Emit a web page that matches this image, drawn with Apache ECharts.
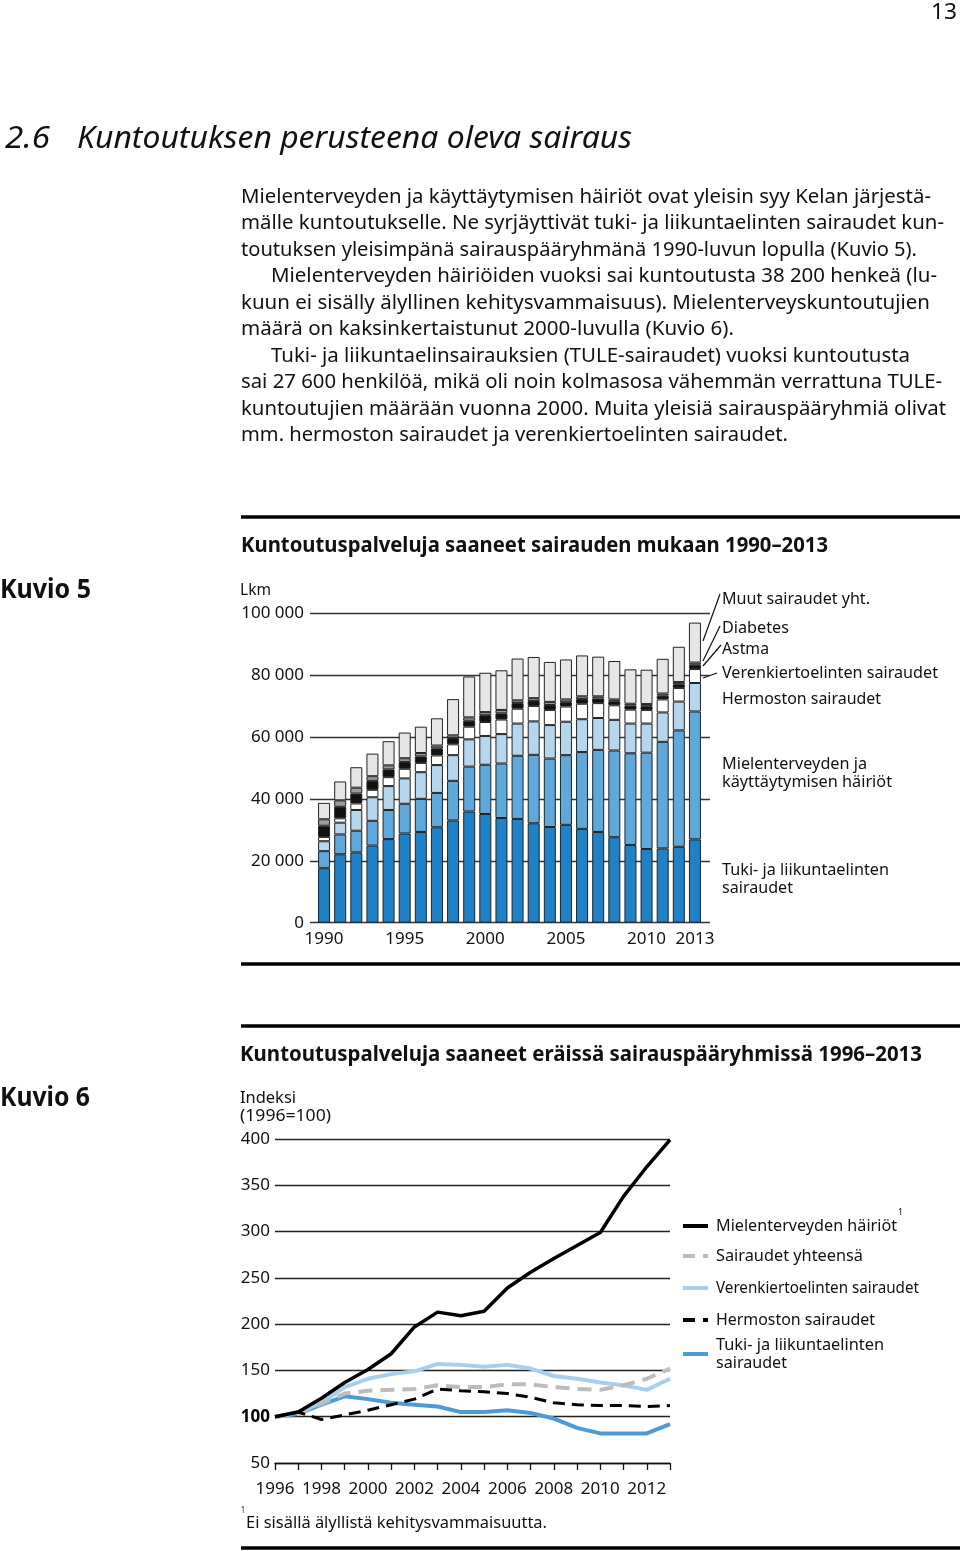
<!DOCTYPE html>
<html>
<head>
<meta charset="utf-8">
<script src="https://cdn.jsdelivr.net/npm/echarts@6/dist/echarts.min.js"></script>
<style>
html,body{margin:0;padding:0;background:#fff;}
#c{width:960px;height:1551px;}
</style>
</head>
<body>
<div id="c"></div>
<script>
// ---------- Kuvio 5 data (lkm) ----------
const years1 = ['1990','1991','1992','1993','1994','1995','1996','1997','1998','1999','2000','2001','2002','2003','2004','2005','2006','2007','2008','2009','2010','2011','2012','2013'];
const tuki = [17600,22100,22700,24900,27000,28800,29300,30800,33000,35900,35100,33800,33500,32100,30900,31600,30300,29300,27600,25100,23800,24000,24500,26900];
const mielenterveys = [5500,6400,7000,8000,9400,9600,10700,11100,12800,14500,15900,17600,20400,22100,22100,22500,24800,26500,28000,29600,31100,34400,37600,41300];
const hermosto = [3200,3800,6700,7600,7700,8200,8600,9000,8300,8800,9300,9500,10400,10800,10800,10800,10600,10300,9900,9600,9400,9500,9300,9200];
const verenkierto = [1400,1400,2100,2400,2900,3100,3000,3100,3500,4100,4500,4700,4800,5000,4900,4900,5000,4800,4700,4500,4400,4200,4400,4500];
const astma = [3600,3700,3200,2900,2500,2200,2100,2300,2000,1900,2200,2000,1800,1600,1600,1400,1500,1500,1300,1300,1200,1200,1200,1400];
const diabetes = [2100,2100,1900,1500,1300,1200,1100,900,900,1100,1000,1100,900,900,1000,900,900,700,600,600,700,700,700,700];
const muut = [5300,6100,6600,7300,7800,8300,8500,8800,11700,13200,12700,12800,13500,13300,12900,12900,13200,12800,12400,11100,11100,11200,11400,12900];
const seriesNames1 = ['Tuki- ja liikuntaelinten sairaudet','Mielenterveyden ja käyttäytymisen häiriöt','Hermoston sairaudet','Verenkiertoelinten sairaudet','Astma','Diabetes','Muut sairaudet yht.'];
const yTicks1 = [0,20000,40000,60000,80000,100000];

// ---------- Kuvio 6 data (indeksi 1996=100) ----------
const years2 = ['1996','1997','1998','1999','2000','2001','2002','2003','2004','2005','2006','2007','2008','2009','2010','2011','2012','2013'];
const mielenterveys2 = [100,105,120,137,151,168,197,213,209,214,239,256,271,285,299,338,370,399];
const yhteensa2 = [100,103,114,125,128,129,130,134,132,132,135,135,132,130,129,134,141,152];
const verenkierto2 = [100,105,115,132,141,146,149,157,156,154,156,152,144,141,137,134,129,141];
const hermosto2 = [100,105,97,102,107,113,119,130,128,127,125,121,115,113,112,112,111,112];
const tuki2 = [100,103,113,122,119,115,113,111,105,105,107,104,98,88,82,82,82,92];
const seriesNames2 = ['Mielenterveyden häiriöt','Sairaudet yhteensä','Verenkiertoelinten sairaudet','Hermoston sairaudet','Tuki- ja liikuntaelinten sairaudet'];

// ---------- helpers ----------
const FF = '"Noto Sans", "Open Sans", sans-serif';
const mctx = document.createElement('canvas').getContext('2d');
function T(s, x, y, size, right, o) {
  o = o || {};
  const font = (o.italic ? 'italic ' : '') + (o.bold ? 'bold ' : '') + size + 'px ' + FF;
  mctx.font = font;
  const w = mctx.measureText(s).width;
  const sx = right ? (right - x) / w : 1;
  return {type:'text', x:x, y:y, scaleX:sx, silent:true,
    style:{text:s, font:font, fill:o.color||'#111', align:'left', verticalAlign:'middle', textAlign:'left', textVerticalAlign:'middle'}};
}
function L(x1,y1,x2,y2,w,color,dash){
  return {type:'line', silent:true, shape:{x1:x1,y1:y1,x2:x2,y2:y2},
    style:{stroke:color||'#111', lineWidth:w||1, lineDash:dash||null}};
}
const thou = v => String(v).replace(/\B(?=(\d{3})+(?!\d))/g, ' ');

const graphics = [
  T('13', 931, 13, 22, 957),
  T('2.6', 5, 139, 31, 50, {italic:true}),
  T('Kuntoutuksen perusteena oleva sairaus', 77, 139, 31, 632, {italic:true}),
  T('Mielenterveyden ja käyttäytymisen häiriöt ovat yleisin syy Kelan järjestä-', 241, 197, 19.5, 931),
  T('mälle kuntoutukselle. Ne syrjäyttivät tuki- ja liikuntaelinten sairaudet kun-', 241, 223.5, 19.5, 944),
  T('toutuksen yleisimpänä sairauspääryhmänä 1990-luvun lopulla (Kuvio 5).', 241, 250, 19.5, 917),
  T('Mielenterveyden häiriöiden vuoksi sai kuntoutusta 38 200 henkeä (lu-', 271, 276.5, 19.5, 937),
  T('kuun ei sisälly älyllinen kehitysvammaisuus). Mielenterveyskuntoutujien', 241, 303, 19.5, 930),
  T('määrä on kaksinkertaistunut 2000-luvulla (Kuvio 6).', 241, 329.5, 19.5, 734),
  T('Tuki- ja liikuntaelinsairauksien (TULE-sairaudet) vuoksi kuntoutusta', 271, 356, 19.5, 910),
  T('sai 27 600 henkilöä, mikä oli noin kolmasosa vähemmän verrattuna TULE-', 241, 382.5, 19.5, 942),
  T('kuntoutujien määrään vuonna 2000. Muita yleisiä sairauspääryhmiä olivat', 241, 409, 19.5, 946),
  T('mm. hermoston sairaudet ja verenkiertoelinten sairaudet.', 241, 435.5, 19.5, 788),

  // Kuvio 5 frame
  L(241, 517, 960, 517, 3.5, '#000'),
  T('Kuntoutuspalveluja saaneet sairauden mukaan 1990–2013', 241, 546, 21, 828, {bold:true}),
  T('Kuvio 5', 0, 590, 27, 91, {bold:true}),
  T('Lkm', 240, 590, 16.5, 271),
  L(241, 964, 960, 964, 3.5, '#000'),
  // Kuvio 5 labels
  T('Muut sairaudet yht.', 722, 599, 16.5, 870),
  T('Diabetes', 722, 628, 16.5, 789),
  T('Astma', 722, 649, 16.5, 769),
  T('Verenkiertoelinten sairaudet', 722, 673, 16.5, 938),
  T('Hermoston sairaudet', 722, 699, 16.5, 881),
  T('Mielenterveyden ja', 722, 764, 16.5, 867),
  T('käyttäytymisen häiriöt', 722, 782, 16.5, 892),
  T('Tuki- ja liikuntaelinten', 722, 870, 16.5, 889),
  T('sairaudet', 722, 888, 16.5, 793),
  L(720, 594, 703, 641, 1.2, '#111'),
  L(720, 626, 703, 661, 1.2, '#111'),
  L(721, 645, 703, 666, 1.2, '#111'),
  L(717, 673, 703, 678, 1.2, '#111'),

  // Kuvio 6 frame
  L(241, 1026, 960, 1026, 3.5, '#000'),
  T('Kuntoutuspalveluja saaneet eräissä sairauspääryhmissä 1996–2013', 240, 1055, 21, 922, {bold:true}),
  T('Kuvio 6', 0, 1098, 27, 90, {bold:true}),
  T('Indeksi', 240, 1098, 16.5, 296),
  T('(1996=100)', 240, 1116, 16.5, 331),
  // Kuvio 6 legend
  L(683, 1226, 708, 1226, 4, '#000'),
  T(seriesNames2[0], 716, 1226, 16.5, 897),
  T('1', 898, 1212, 9, 903),
  L(683, 1256, 708, 1256, 4, '#bdbdbd', [12, 8]),
  T(seriesNames2[1], 716, 1256, 16.5, 863),
  L(683, 1288, 708, 1288, 4, '#a8d0ec'),
  T(seriesNames2[2], 716, 1288, 16.5, 919),
  L(683, 1320, 708, 1320, 4, '#000', [12, 8]),
  T(seriesNames2[3], 716, 1320, 16.5, 875),
  L(683, 1354, 708, 1354, 4, '#4c9bd4'),
  T('Tuki- ja liikuntaelinten', 716, 1345, 16.5, 884),
  T('sairaudet', 716, 1363, 16.5, 787),
  T('1', 241, 1511, 8, 245),
  T('Ei sisällä älyllistä kehitysvammaisuutta.', 246, 1523, 17, 547),
  L(241, 1548, 960, 1548, 3.5, '#000')
];

const colors1 = ['#1f82c8','#5ea8dc','#b4d6ef','#ffffff','#111111','#9a9a9a','#e6e6e6'];
const data1 = [tuki, mielenterveys, hermosto, verenkierto, astma, diabetes, muut];

const barSeries = data1.map((d, i) => ({
  name: seriesNames1[i], type:'bar', stack:'a', xAxisIndex:0, yAxisIndex:0,
  data:d, barWidth:12, silent:true,
  itemStyle:{color:colors1[i], borderColor:'#222', borderWidth:1}
}));

const lineDefs = [
  {d:tuki2, n:seriesNames2[4], c:'#4c9bd4', w:4, t:'solid'},
  {d:verenkierto2, n:seriesNames2[2], c:'#a8d0ec', w:4, t:'solid'},
  {d:yhteensa2, n:seriesNames2[1], c:'#bdbdbd', w:4, t:[14,8]},
  {d:hermosto2, n:seriesNames2[3], c:'#000', w:3, t:[12,7]},
  {d:mielenterveys2, n:seriesNames2[0], c:'#000', w:3.5, t:'solid'}
];
const lineSeries = lineDefs.map(l => ({
  name:l.n, type:'line', xAxisIndex:2, yAxisIndex:2, data:l.d, symbol:'none', silent:true,
  lineStyle:{color:l.c, width:l.w, type:l.t}, z:3
}));

const axisTxt = {color:'#111', fontSize:17, fontFamily:FF};

const option = {
  animation:false,
  backgroundColor:'#fff',
  grid:[
    {left:316, width:387, top:613, height:309.7},
    {left:310, width:400, top:613, height:309.7},
    {left:275, width:395, top:1139, height:324}
  ],
  xAxis:[
    {gridIndex:0, type:'category', data:years1, boundaryGap:true,
      axisLine:{show:false}, axisTick:{show:false},
      axisLabel:Object.assign({margin:8, interval:(i)=> i%5===0 || i===years1.length-1}, axisTxt)},
    {gridIndex:1, type:'value', show:false, min:0, max:1},
    {gridIndex:2, type:'category', data:years2, boundaryGap:false,
      axisLine:{show:true, onZero:false, lineStyle:{color:'#111', width:1.3}},
      axisTick:{show:true, interval:0, length:7, lineStyle:{color:'#111', width:1.3}},
      axisLabel:Object.assign({margin:18, interval:1}, axisTxt)}
  ],
  yAxis:[
    {gridIndex:0, type:'value', min:0, max:100000, interval:20000, show:false},
    {gridIndex:1, type:'value', min:yTicks1[0], max:yTicks1[yTicks1.length-1], interval:20000,
      axisLine:{show:false}, axisTick:{show:false},
      splitLine:{show:true, lineStyle:{color:'#333', width:1.4}},
      axisLabel:Object.assign({margin:6, formatter:thou}, axisTxt)},
    {gridIndex:2, type:'value', min:50, max:400, interval:50,
      axisLine:{show:false}, axisTick:{show:false},
      splitLine:{show:true, lineStyle:{color:'#222', width:1.3}},
      axisLabel:Object.assign({margin:5, formatter:v => v===100 ? '{b|100}' : String(v),
        rich:{b:{fontWeight:'bold', fontSize:17, color:'#000', fontFamily:FF}}}, axisTxt)}
  ],
  series: barSeries.concat(lineSeries),
  graphic: graphics
};

const chart = echarts.init(document.getElementById('c'), null, {renderer:'canvas'});
chart.setOption(option);
</script>
</body>
</html>
